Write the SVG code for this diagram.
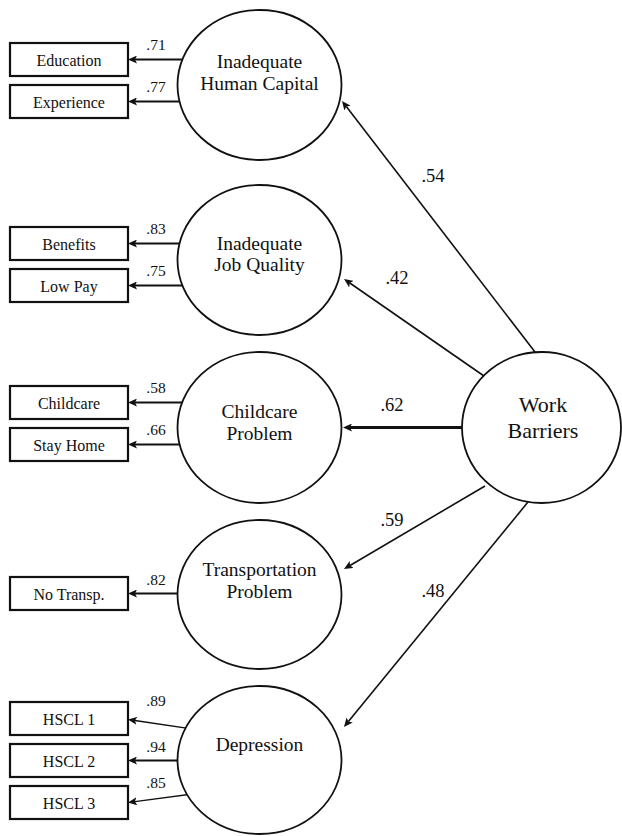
<svg xmlns="http://www.w3.org/2000/svg" width="622" height="836" viewBox="0 0 622 836">
<style>
  text { font-family: "Liberation Serif", "Times New Roman", serif; fill: #111; }
  .box { fill: #fff; stroke: #111; stroke-width: 2.2; }
  .lat { fill: #fff; stroke: #111; stroke-width: 1.8; }
  .bt { font-size: 16px; text-anchor: middle; }
  .lt { font-size: 19.5px; text-anchor: middle; }
  .wb { font-size: 22px; text-anchor: middle; }
  .il { font-size: 15.5px; text-anchor: middle; }
  .sl { font-size: 18.5px; text-anchor: middle; }
  .ind { stroke: #111; stroke-width: 2; fill: none; marker-end: url(#ah); }
  .thin { stroke: #111; stroke-width: 1.3; fill: none; marker-end: url(#ah); }
  .str { stroke: #111; stroke-width: 1.6; fill: none; marker-end: url(#ah); }
  .thick { stroke: #111; stroke-width: 3; fill: none; marker-end: url(#ah); }
</style>
<defs>
  <marker id="ah" viewBox="0 0 9 8" markerWidth="9" markerHeight="8" refX="2" refY="4" orient="auto" markerUnits="userSpaceOnUse">
    <path d="M0,0 L9,4 L0,8 L2,4 Z" fill="#111"/>
  </marker>
</defs>
<g id="connectors">
  <line class="ind" x1="200" y1="59.5" x2="135" y2="59.5"/>
  <line class="ind" x1="200" y1="101.5" x2="135" y2="101.5"/>
  <line class="ind" x1="200" y1="243.5" x2="135" y2="243.5"/>
  <line class="ind" x1="200" y1="285.5" x2="135" y2="285.5"/>
  <line class="ind" x1="200" y1="402.5" x2="135" y2="402.5"/>
  <line class="ind" x1="200" y1="444.5" x2="135" y2="444.5"/>
  <line class="ind" x1="200" y1="593.5" x2="135" y2="593.5"/>
  <line class="thin" x1="200" y1="730.2" x2="134.9" y2="720.5"/>
  <line class="ind" x1="200" y1="760.5" x2="135" y2="760.5"/>
  <line class="thin" x1="200" y1="793" x2="134.9" y2="801.6"/>
  <line class="str" x1="535" y1="352" x2="346.3" y2="106.5"/>
  <line class="str" x1="484" y1="376" x2="349.8" y2="283"/>
  <line class="thick" x1="470" y1="427.5" x2="350" y2="427.5"/>
  <line class="str" x1="485" y1="486" x2="350" y2="565.5"/>
  <line class="str" x1="528" y1="502" x2="348.4" y2="721.6"/>
  <text class="il" x="156" y="50">.71</text>
  <text class="il" x="156" y="92">.77</text>
  <text class="il" x="156" y="234">.83</text>
  <text class="il" x="156" y="276">.75</text>
  <text class="il" x="156" y="393">.58</text>
  <text class="il" x="156" y="435">.66</text>
  <text class="il" x="156" y="585">.82</text>
  <text class="il" x="156" y="706">.89</text>
  <text class="il" x="156" y="752">.94</text>
  <text class="il" x="156" y="788">.85</text>
  <text class="sl" x="433" y="182">.54</text>
  <text class="sl" x="397" y="284">.42</text>
  <text class="sl" x="392" y="411">.62</text>
  <text class="sl" x="392" y="526">.59</text>
  <text class="sl" x="433" y="597">.48</text>
</g>
<g id="education"><rect class="box" x="10" y="43" width="118" height="33"/><text class="bt" x="69" y="65.5">Education</text></g>
<g id="experience"><rect class="box" x="10" y="85" width="118" height="33"/><text class="bt" x="69" y="107.5">Experience</text></g>
<g id="benefits"><rect class="box" x="10" y="227" width="118" height="33"/><text class="bt" x="69" y="249.5">Benefits</text></g>
<g id="lowpay"><rect class="box" x="10" y="269" width="118" height="33"/><text class="bt" x="69" y="291.5">Low Pay</text></g>
<g id="childcare"><rect class="box" x="10" y="386" width="118" height="33"/><text class="bt" x="69" y="408.5">Childcare</text></g>
<g id="stayhome"><rect class="box" x="10" y="428" width="118" height="33"/><text class="bt" x="69" y="450.5">Stay Home</text></g>
<g id="notransp"><rect class="box" x="10" y="577" width="118" height="33"/><text class="bt" x="69" y="599.5">No Transp.</text></g>
<g id="hscl1"><rect class="box" x="10" y="702" width="118" height="33"/><text class="bt" x="69" y="724.5">HSCL 1</text></g>
<g id="hscl2"><rect class="box" x="10" y="744" width="118" height="33"/><text class="bt" x="69" y="766.5">HSCL 2</text></g>
<g id="hscl3"><rect class="box" x="10" y="786" width="118" height="33"/><text class="bt" x="69" y="808.5">HSCL 3</text></g>
<g id="humancapital"><ellipse class="lat" cx="259.5" cy="85" rx="82" ry="75"/><text class="lt" x="259.5" y="68">Inadequate</text><text class="lt" x="259.5" y="90">Human Capital</text></g>
<g id="jobquality"><ellipse class="lat" cx="259.5" cy="260" rx="82" ry="75"/><text class="lt" x="259.5" y="250">Inadequate</text><text class="lt" x="259.5" y="271">Job Quality</text></g>
<g id="childcareproblem"><ellipse class="lat" cx="259.5" cy="427.5" rx="82" ry="75.5"/><text class="lt" x="259.5" y="418">Childcare</text><text class="lt" x="259.5" y="440">Problem</text></g>
<g id="transportation"><ellipse class="lat" cx="259.5" cy="594.5" rx="82" ry="74.5"/><text class="lt" x="259.5" y="576">Transportation</text><text class="lt" x="259.5" y="598">Problem</text></g>
<g id="depression"><ellipse class="lat" cx="259.5" cy="760" rx="82" ry="74"/><text class="lt" x="259.5" y="751">Depression</text></g>
<g id="workbarriers"><ellipse class="lat" cx="541.5" cy="427.5" rx="79.5" ry="75.5"/><text class="wb" x="543" y="412">Work</text><text class="wb" x="543" y="438">Barriers</text></g>
</svg>
